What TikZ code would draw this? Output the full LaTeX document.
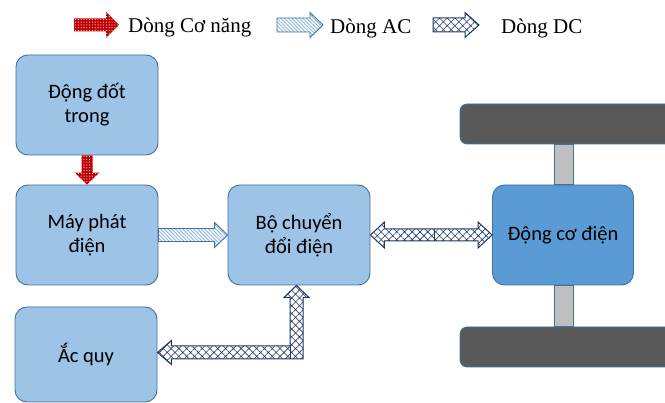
\documentclass[tikz,border=0pt]{standalone}
\usepackage{fontspec}
\setmainfont{Carlito}
\newfontfamily\legfont{Liberation Serif}
\usetikzlibrary{calc,patterns.meta}
\definecolor{boxfill}{HTML}{9DC3E6}
\definecolor{boxline}{HTML}{41719C}
\definecolor{motfill}{HTML}{5B9BD5}
\definecolor{wheelfill}{HTML}{595959}
\definecolor{axlefill}{HTML}{BFBFBF}
\definecolor{redarr}{HTML}{C00000}
\definecolor{acline}{HTML}{41719C}
\definecolor{acstripe}{HTML}{8DB3DD}
\definecolor{dcline}{HTML}{1F3864}
\tikzset{
  blk/.style={draw=boxline, line width=0.9pt, fill=boxfill, rounded corners=12pt,
    minimum width=142pt, minimum height=100pt, align=center,
    font=\fontsize{20.5}{24}\selectfont, inner sep=0pt},
  motorbox/.style={blk, fill=motfill},
  wheelbox/.style={draw=boxline, line width=0.8pt, fill=wheelfill, rounded corners=7pt,
    minimum width=220pt, minimum height=40pt, inner sep=0pt},
  axlebar/.style={draw=boxline, line width=0.8pt, fill=axlefill},
  arrRed/.style={preaction={fill=redarr}, pattern={Dots[radius=0.55pt,distance=2.8pt]}, pattern color=white},
  arrAC/.style={preaction={fill=white}, pattern={Lines[angle=-45,distance=2.6pt,line width=0.9pt]},
    pattern color=acstripe, draw=acline, line width=0.9pt, line join=miter},
  arrDC/.style={preaction={fill=white}, pattern={Hatch[angle=45,distance=5.5pt,line width=0.6pt]},
    pattern color=dcline, draw=dcline, line width=1pt, line join=miter},
  legtext/.style={font=\legfont\fontsize{21}{24}\selectfont, anchor=base west, inner sep=0pt}
}
\begin{document}
\begin{tikzpicture}[x=1pt,y=1pt]
\useasboundingbox (0,0) rectangle (665,-403);
\clip (0,0) rectangle (665,-403);

% legend
\path[arrRed] (74,-18.5) -- (106,-18.5) -- (106,-12) -- (119,-25) -- (106,-38) -- (106,-31.5) -- (74,-31.5) -- cycle;
\node[legtext] (lg1) at (128,-33) {Dòng Cơ năng};
\path[arrAC] (277,-18) -- (310,-18) -- (310,-12.5) -- (323,-25) -- (310,-37.5) -- (310,-32) -- (277,-32) -- cycle;
\node[legtext] (lg2) at (330,-34) {Dòng AC};
\path[arrDC] (433,-18) -- (465,-18) -- (465,-12.5) -- (479,-25) -- (465,-37.5) -- (465,-32) -- (433,-32) -- cycle;
\node[legtext] (lg3) at (501,-34) {Dòng DC};

% blocks
\node[blk] (ice) at (87,-105) {Động đốt\\trong};
\node[blk] (gen) at (87,-235) {Máy phát\\điện};
\node[blk] (conv) at (299,-235) {Bộ chuyển\\đổi điện};
\node[blk, minimum height=95pt] (bat) at (86,-354.5) {Ắc quy};
\node[motorbox, minimum width=141pt] (mot) at (563,-235) {Động cơ điện};
\node[wheelbox] (w1) at (570,-124) {};
\node[wheelbox] (w2) at (570,-347) {};
\draw[axlebar] ($(w1.south)+(-16,0)$) rectangle ($(mot.north)+(10,0)$);
\draw[axlebar] ($(mot.south)+(-9,0)$) rectangle ($(w2.north)+(3,0)$);

% red arrow ice -> gen
\coordinate (ra) at (ice.south);
\coordinate (rb) at (gen.north);
\path[arrRed] ($(ra)+(-5.5,0)$) -- ($(rb)+(-5.5,12)$) -- ($(rb)+(-12.5,12)$) -- (rb)
  -- ($(rb)+(12.5,12)$) -- ($(rb)+(5.5,12)$) -- ($(ra)+(5.5,0)$) -- cycle;

% AC arrow gen -> conv
\path[arrAC] ($(gen.east)+(0,6.5)$) -- ($(conv.west)+(-13,6.5)$) -- ($(conv.west)+(-13,12.5)$)
  -- (conv.west) -- ($(conv.west)+(-13,-12.5)$) -- ($(conv.west)+(-13,-6.5)$)
  -- ($(gen.east)+(0,-6.5)$) -- cycle;

% DC double arrow conv <-> mot
\path[arrDC] (conv.east) -- ($(conv.east)+(14,13)$) -- ($(conv.east)+(14,6)$)
  -- ($(mot.west)+(-14,6)$) -- ($(mot.west)+(-14,13)$) -- (mot.west)
  -- ($(mot.west)+(-14,-13)$) -- ($(mot.west)+(-14,-6)$)
  -- ($(conv.east)+(14,-6)$) -- ($(conv.east)+(14,-13)$) -- cycle;
\draw[dcline, line width=1pt] ($(conv.east)!0.53!(mot.west)+(0,6)$) -- ($(conv.east)!0.53!(mot.west)+(0,-6)$);

% DC L-arrow conv <-> bat
\coordinate (up) at ($(conv.south)+(-2.5,0)$);
\coordinate (lt) at ($(bat.east)+(0,2)$);
\path[arrDC] (up) -- ($(up)+(12.5,-12)$) -- ($(up)+(6.5,-12)$) -- ($(up |- lt)+(6.5,-6.5)$)
  -- ($(lt)+(14,-6.5)$) -- ($(lt)+(14,-12)$) -- (lt) -- ($(lt)+(14,12)$) -- ($(lt)+(14,6.5)$)
  -- ($(up |- lt)+(-6.5,6.5)$) -- ($(up)+(-6.5,-12)$) -- ($(up)+(-12.5,-12)$) -- cycle;
\draw[dcline, line width=1pt] ($(up |- lt)+(-6.5,6.5)$) -- ($(up |- lt)+(-6.5,-6.5)$);
\end{tikzpicture}
\end{document}
